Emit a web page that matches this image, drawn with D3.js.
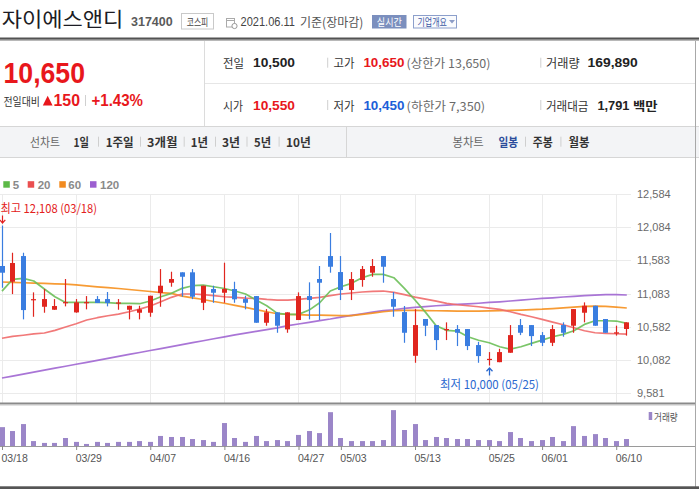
<!DOCTYPE html>
<html><head><meta charset="utf-8">
<script src="https://cdn.jsdelivr.net/npm/d3@7"></script>
<style>body{margin:0;background:#fff;overflow:hidden}svg{display:block}</style>
</head><body>
<svg id="c" width="699" height="489"></svg>
<script>
// ---------- data ----------
const dates = ["03/18","03/19","03/22","03/23","03/24","03/25","03/26","03/29","03/30","03/31",
"04/01","04/02","04/05","04/06","04/07","04/08","04/09","04/12","04/13","04/14","04/15","04/16",
"04/19","04/20","04/21","04/22","04/23","04/26","04/27","04/28","04/29","04/30",
"05/03","05/04","05/06","05/07","05/10","05/11","05/12","05/13","05/14","05/17","05/18","05/20",
"05/21","05/24","05/25","05/26","05/27","05/28","05/31",
"06/01","06/02","06/03","06/04","06/07","06/08","06/09","06/10","06/11"];
const openP = [11499,11262,11649,10990,10885,10840,10950,10800,10950,11001,
11001,10945,10840,10795,10795,11092,11247,11404,11404,10945,
11152,11096,11152,11001,11046,10644,10801,10544,10685,11046,
11303,11649,11408,11137,11288,11398,11649,11001,10805,10146,
10700,10609,10540,10549,10549,10308,10090,10050,10192,10609,
10609,10458,10342,10609,10599,10795,10900,10700,10500,10550];
const highP = [12108,11699,11699,11102,11152,11001,11303,11001,11046,11046,
11107,11001,10900,10900,11051,11453,11413,11404,11453,11202,
11202,11549,11262,11051,11046,10850,10801,10801,11102,11253,
11499,11996,11649,11408,11499,11604,11649,11107,10896,10850,
10700,10609,10650,10609,10549,10357,10202,10252,10609,10700,
10609,10504,10609,10650,10850,10951,10900,10700,10600,10650];
const lowP = [11171,11076,10695,10734,10795,10840,10891,10795,10846,10941,
10891,10840,10695,10695,10734,10885,11187,11036,11000,10835,
10945,10945,10945,10846,10644,10599,10493,10493,10685,10695,
10685,11398,10986,10986,11187,11337,11247,10734,10342,10041,
10443,10232,10383,10293,10232,10041,10000,10050,10192,10458,
10293,10293,10293,10433,10493,10650,10599,10493,10450,10450];
const closeP = [11398,11544,10835,11000,11001,10896,10955,10951,10955,10941,
10941,10950,10900,10846,11051,11202,11303,11337,11036,11202,
11096,11152,10997,10945,10644,10801,10599,10801,11046,10986,
11247,11488,11137,11303,11453,11499,11488,10885,10493,10609,
10599,10383,10550,10493,10293,10142,10100,10202,10458,10493,
10443,10342,10549,10493,10850,10900,10599,10493,10500,10650];
const volume = [460000,365000,535000,120000,75000,75000,195000,100000,50000,100000,
75000,100000,100000,120000,100000,245000,220000,220000,170000,145000,
100000,560000,195000,100000,245000,120000,145000,120000,270000,365000,
315000,825000,195000,120000,120000,120000,145000,875000,390000,535000,
145000,220000,195000,170000,170000,145000,145000,120000,340000,195000,
120000,145000,220000,120000,485000,245000,290000,195000,120000,169890];
const ma5 = [11120,11298,11313,11273,11152,11036,10951,10951,10951,10951,
10946,10936,10936,10931,10971,11036,11087,11162,11202,11212,
11187,11160,11122,11077,10986,10900,10785,10770,10770,10835,
10946,11122,11187,11238,11323,11373,11373,11323,11162,10986,
10800,10599,10529,10519,10433,10380,10343,10282,10247,10282,
10333,10383,10433,10469,10523,10619,10674,10674,10670,10635];
const ma20 = [10410,10440,10456,10475,10490,10530,10580,10629,10685,10720,
10750,10775,10810,10850,10896,10960,11027,11077,11077,11067,
11052,11036,11027,11015,11012,10997,10986,10986,10997,11012,
11027,11052,11077,11092,11107,11117,11122,11102,11067,11031,
11001,10971,10936,10915,10900,10885,10865,10845,10810,10770,
10735,10695,10654,10614,10569,10523,10493,10484,10478,10474];
const ma60 = [11258,11252,11247,11242,11236,11230,11227,11215,11200,11185,
11172,11160,11145,11130,11115,11098,11087,11046,11018,10994,
10964,10938,10906,10875,10842,10810,10780,10770,10765,10760,
10758,10755,10752,10752,10770,10790,10810,10825,10830,10830,
10828,10825,10822,10820,10820,10820,10822,10825,10830,10835,
10842,10848,10858,10868,10880,10892,10896,10892,10880,10866];
const ma120 = [9812,9841,9871,9900,9930,9960,9989,10019,10048,10078,
10108,10137,10167,10196,10226,10255,10285,10314,10344,10373,
10403,10432,10462,10488,10514,10540,10566,10600,10625,10650,
10675,10700,10730,10755,10780,10805,10828,10840,10860,10875,
10888,10900,10910,10920,10928,10938,10950,10960,10972,10985,
10998,11010,11020,11032,11042,11052,11060,11068,11068,11062];
const priceTicks = [12584,12084,11583,11083,10582,10082,9581];
const dateTicks = ["03/18","03/29","04/07","04/16","04/27","05/03","05/13","05/25","06/01","06/10"];
const maNames = ["5","20","60","120"];
const maColors = ["#6cbf58","#f06a6a","#f6901e","#a066d2"];
const legendColors = ["#5cb947","#ea4f4f","#f28a1e","#9c5fd0"];

// ---------- helpers ----------
const svg = d3.select("#c");
const KR = "'Noto Sans CJK KR','Noto Sans',sans-serif";
const NUM = "'Liberation Sans',Arial,sans-serif";
function T(x, y, s, o = {}) {
  const t = svg.append("text").attr("x", x).attr("y", y).text(s)
    .attr("font-family", o.f || KR).attr("font-size", o.s || 12)
    .attr("fill", o.c || "#333").attr("dominant-baseline", "central");
  if (o.w) t.attr("font-weight", o.w);
  if (o.a) t.attr("text-anchor", o.a);
  if (o.L) t.attr("textLength", o.L).attr("lengthAdjust", "spacingAndGlyphs");
  return t;
}
function L(x1, y1, x2, y2, c, w = 1) {
  svg.append("line").attr("x1", x1).attr("y1", y1).attr("x2", x2).attr("y2", y2)
    .attr("stroke", c).attr("stroke-width", w);
}

// ---------- header ----------
T(1.7, 18.5, "자이에스앤디", {s: 20, c: "#1c1c24", L: 121.6});
T(131, 21.7, "317400", {f: NUM, s: 12.5, w: "bold", c: "#5a5a5a", L: 41.7});
svg.append("rect").attr("x", 181.5).attr("y", 13.5).attr("width", 32).attr("height", 15.5)
  .attr("fill", "#fff").attr("stroke", "#c9c9c9");
T(197.5, 21.3, "코스피", {s: 10, c: "#444", a: "middle", L: 21.6});
svg.append("rect").attr("x", 226.5).attr("y", 18.5).attr("width", 8).attr("height", 8.5)
  .attr("fill", "none").attr("stroke", "#aaa");
L(226.5, 20.5, 234.5, 20.5, "#aaa");
svg.append("circle").attr("cx", 234.5).attr("cy", 26).attr("r", 2.6).attr("fill", "#fff").attr("stroke", "#999");
T(240.5, 21.7, "2021.06.11", {f: NUM, s: 12.5, c: "#444", L: 54.5});
T(300, 21.7, "기준(장마감)", {s: 12.5, c: "#555", L: 63.3});
svg.append("rect").attr("x", 372).attr("y", 15).attr("width", 34.5).attr("height", 13.5).attr("fill", "#7b8fbe");
T(389.3, 21.7, "실시간", {s: 10.5, c: "#fff", a: "middle", L: 25});
svg.append("rect").attr("x", 413.5).attr("y", 15.5).attr("width", 43).attr("height", 12.5)
  .attr("fill", "#fafbfd").attr("stroke", "#8c9fcb");
T(417.5, 21.7, "기업개요", {s: 10.5, c: "#3b5aa5", L: 29.5});
svg.append("path").attr("d", "M449,20 L455,20 L452,23.5 Z").attr("fill", "#8d9dc6");
svg.append("rect").attr("x", 0).attr("y", 37.5).attr("width", 699).attr("height", 2.2).attr("fill", "#525252");
svg.append("rect").attr("x", 0).attr("y", 39.7).attr("width", 699).attr("height", 1).attr("fill", "#9a9a9a");

// ---------- summary panel ----------
T(3.5, 72.5, "10,650", {f: NUM, s: 29, w: "bold", c: "#e8171c", L: 81.5});
T(3.5, 101, "전일대비", {s: 11, c: "#333", L: 36.5});
svg.append("path").attr("d", "M42.8,105.5 L47.7,95.7 L52.6,105.5 Z").attr("fill", "#e8171c");
T(53.5, 100.2, "150", {f: NUM, s: 16, w: "bold", c: "#e8171c", L: 26.5});
L(85.5, 95, 85.5, 106, "#d0d0d0");
T(91.5, 100.2, "+1.43%", {f: NUM, s: 16, w: "bold", c: "#e8171c", L: 51.5});

L(204.5, 41, 204.5, 126, "#dcdcdc");
L(205, 83.5, 695, 83.5, "#e6e6e6");
const r1 = 62.7, r2 = 105;
T(223, r1, "전일", {s: 12, c: "#333", L: 21});
T(253, r1, "10,500", {f: NUM, s: 13, w: "bold", c: "#222", L: 42});
T(333.5, r1, "고가", {s: 12, c: "#333", L: 21});
T(363.4, r1, "10,650", {f: NUM, s: 13, w: "bold", c: "#e8171c", L: 41});
T(406.6, r1, "(상한가 13,650)", {s: 12, c: "#6a6a6a", L: 83.8});
T(546, r1, "거래량", {s: 12, c: "#333", L: 33.6});
T(587.6, r1, "169,890", {f: NUM, s: 13, w: "bold", c: "#222", L: 50});
T(223, r2, "시가", {s: 12, c: "#333", L: 20});
T(253, r2, "10,550", {f: NUM, s: 13, w: "bold", c: "#e8171c", L: 42});
T(333.5, r2, "저가", {s: 12, c: "#333", L: 21});
T(363.4, r2, "10,450", {f: NUM, s: 13, w: "bold", c: "#1c5fd8", L: 41});
T(406.6, r2, "(하한가 7,350)", {s: 12, c: "#6a6a6a", L: 78.5});
T(546, r2, "거래대금", {s: 12, c: "#333", L: 42.5});
T(597.4, r2, "1,791", {f: NUM, s: 13, w: "bold", c: "#222", L: 32});
T(633, r2, "백만", {s: 12, w: "bold", c: "#222", L: 24.6});
[r1, r2].forEach(r => { [327.7, 540.8].forEach(xx => L(xx, r - 5, xx, r + 5, "#cfcfcf")); });

// ---------- tab row ----------
svg.append("rect").attr("x", 0).attr("y", 126).attr("width", 699).attr("height", 31).attr("fill", "#f3f4f6");
L(0, 126.5, 699, 126.5, "#d6d6d6");
L(0, 157.5, 699, 157.5, "#d6d6d6");
L(346.5, 127, 346.5, 157, "#d6d6d6");
const tr = 141.7;
T(30, tr, "선차트", {s: 12, c: "#666", L: 30});
[["1일",73.5,15.5],["1주일",105.7,28],["3개월",147,30.4],["1년",190.8,17.2],["3년",222,18],["5년",254,17],["10년",286,24.7]]
  .forEach(d => T(d[1], tr, d[0], {s: 12, w: "bold", c: "#333", L: d[2]}));
[98, 140, 183.7, 215, 246.5, 278.6, 525, 560.4].forEach(xx => L(xx + 0.5, tr - 5, xx + 0.5, tr + 5, "#cfcfcf"));
T(452.5, tr, "봉차트", {s: 12, c: "#666", L: 31.2});
T(498.4, tr, "일봉", {s: 12, w: "bold", c: "#2b4c9b", L: 19.6});
T(532.8, tr, "주봉", {s: 12, w: "bold", c: "#333", L: 20});
T(568.4, tr, "월봉", {s: 12, w: "bold", c: "#333", L: 21});

// ---------- legend ----------
const lx = [[3.3,12.7],[27.7,37.7],[59.3,68.3],[90,100]];
maNames.forEach((n, i) => {
  svg.append("rect").attr("x", lx[i][0]).attr("y", 181.2).attr("width", 6.5).attr("height", 6.5).attr("fill", legendColors[i]);
  T(lx[i][1], 184.7, n, {f: NUM, s: 11.5, w: "bold", c: "#8a8a8a"});
});

// ---------- scales ----------
const x = d3.scalePoint().domain(dates).range([2, 626.8]);
const y = d3.scaleLinear().domain([9581, 12584]).range([393.3, 194]);
const yv = d3.scaleLinear().domain([0, 1000000]).range([446, 405]);
const px = d => Math.floor(x(d)) + 0.5;

const grid = svg.append("g");
priceTicks.forEach(t => grid.append("line").attr("x1", 0).attr("x2", 631)
  .attr("y1", Math.round(y(t)) + 0.5).attr("y2", Math.round(y(t)) + 0.5).attr("stroke", "#ebebeb"));
dateTicks.forEach(d => grid.append("line").attr("x1", px(d)).attr("x2", px(d))
  .attr("y1", 194).attr("y2", 403).attr("stroke", "#ebebeb"));

const ya = svg.append("g").attr("transform", "translate(631,0)")
  .call(d3.axisRight(y).tickValues(priceTicks).tickFormat(d3.format(",")).tickSize(0).tickPadding(6));
ya.select(".domain").remove();
ya.selectAll("text").attr("font-family", NUM).attr("font-size", 11).attr("fill", "#6a6a6a");

svg.append("clipPath").attr("id", "pc").append("rect").attr("x", 0).attr("y", 160).attr("width", 631).attr("height", 243);
const plot = svg.append("g").attr("clip-path", "url(#pc)");

const series = [ma120, ma60, ma20, ma5];
const scol = [maColors[3], maColors[2], maColors[1], maColors[0]];
series.forEach((s, k) => {
  plot.append("path").datum(s)
    .attr("d", d3.line().x((v, i) => x(dates[i])).y(v => y(v)))
    .attr("fill", "none").attr("stroke", scol[k]).attr("stroke-width", 1.7).attr("stroke-opacity", 0.9)
    .attr("stroke-linejoin", "round");
});

const RED = "#e0261f", BLUE = "#3a7de0";
dates.forEach((d, i) => {
  const up = closeP[i] >= openP[i];
  const col = up ? RED : BLUE;
  const cx = px(d);
  plot.append("line").attr("x1", cx).attr("x2", cx).attr("y1", y(highP[i])).attr("y2", y(lowP[i]))
    .attr("stroke", col).attr("stroke-width", 1.2);
  const top = y(Math.max(openP[i], closeP[i])), bot = y(Math.min(openP[i], closeP[i]));
  plot.append("rect").attr("x", Math.floor(x(d)) - 2).attr("width", 5)
    .attr("y", top).attr("height", Math.max(1.2, bot - top)).attr("fill", col);
});

const hi = d3.maxIndex(highP), lo = d3.minIndex(lowP);
svg.append("text").attr("x", 0.5).attr("y", 207.7).attr("dominant-baseline", "central")
  .attr("font-family", KR).attr("font-size", 12).attr("fill", "#e32020")
  .attr("textLength", 96.5).attr("lengthAdjust", "spacingAndGlyphs")
  .text(`최고 ${d3.format(",")(highP[hi])} (${dates[hi]})`);
const hx = px(dates[hi]);
svg.append("path").attr("d", `M${hx},215.5 V223 M${hx-2.8},219.8 L${hx},223 L${hx+2.8},219.8`)
  .attr("fill", "none").attr("stroke", "#e32020").attr("stroke-width", 1.2);
const lxp = px(dates[lo]);
svg.append("text").attr("x", lxp).attr("y", 383.3).attr("dominant-baseline", "central").attr("text-anchor", "middle")
  .attr("font-family", KR).attr("font-size", 12).attr("fill", "#2a68cf")
  .attr("textLength", 99).attr("lengthAdjust", "spacingAndGlyphs")
  .text(`최저 ${d3.format(",")(lowP[lo])} (${dates[lo]})`);
svg.append("path").attr("d", `M${lxp},375.5 V368 M${lxp-3},371.3 L${lxp},368 L${lxp+3},371.3`)
  .attr("fill", "none").attr("stroke", "#2a68cf").attr("stroke-width", 1.3);

L(0, 403.5, 695, 403.5, "#8a8a8a", 2);
L(0, 405.5, 695, 405.5, "#e2e2e2");

const vg = svg.append("g");
dates.forEach((d, i) => {
  vg.append("rect").attr("x", Math.floor(x(d)) - 2).attr("width", 5)
    .attr("y", yv(volume[i])).attr("height", 446 - yv(volume[i])).attr("fill", "#9b86c8");
});
L(0, 446.5, 695, 446.5, "#9a9a9a");
const xa = svg.append("g").attr("transform", "translate(0,446)")
  .call(d3.axisBottom(x).tickValues(dateTicks).tickSize(4).tickPadding(4.5));
xa.select(".domain").remove();
xa.selectAll(".tick line").attr("stroke", "#8a8a8a");
xa.selectAll("text").attr("text-anchor", "start").attr("x", -1)
  .attr("font-family", NUM).attr("font-size", 10.5).attr("fill", "#555");
svg.append("rect").attr("x", 648.7).attr("y", 412).attr("width", 3.5).attr("height", 8).attr("fill", "#9b86c8");
T(654, 416.3, "거래량", {s: 10, c: "#555", L: 23.7});

L(695.5, 41, 695.5, 487, "#a8a8a8");
svg.append("rect").attr("x", 0).attr("y", 486.3).attr("width", 699).attr("height", 2.7).attr("fill", "#555");
</script>
</body></html>
